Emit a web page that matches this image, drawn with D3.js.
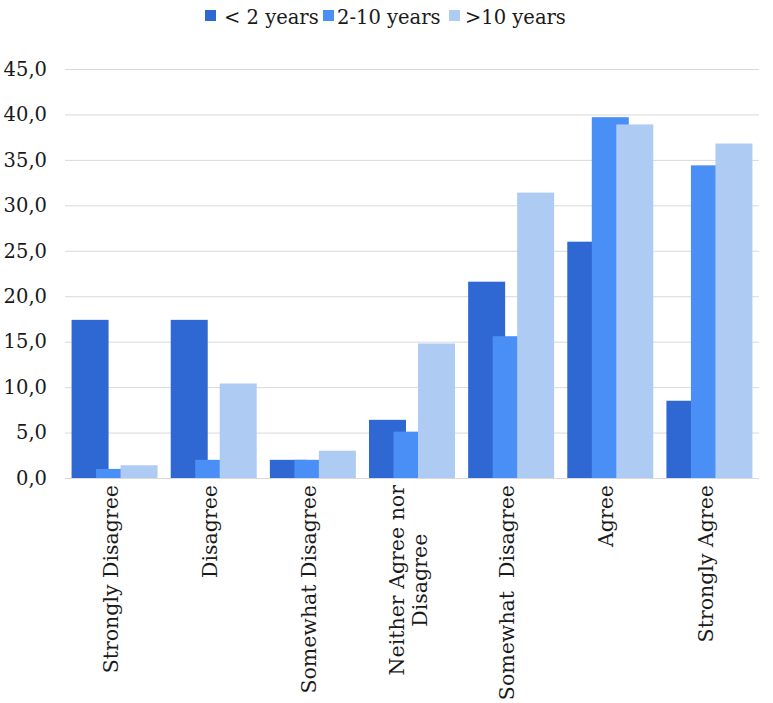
<!DOCTYPE html>
<html>
<head>
<meta charset="utf-8">
<script src="https://cdn.jsdelivr.net/npm/d3@7"></script>
<style>
  html, body { margin: 0; padding: 0; background: #fff; }
  svg { display: block; }
  text { font-family: "DejaVu Serif", serif; fill: #1a1a1a; }
</style>
</head>
<body>
<svg id="chart" width="773" height="703"></svg>
<script>
const categories = [
  ["Strongly Disagree"],
  ["Disagree"],
  ["Somewhat Disagree"],
  ["Neither Agree nor", "Disagree"],
  ["Somewhat  Disagree"],
  ["Agree"],
  ["Strongly Agree"]
];
const seriesNames = ["< 2 years", "2-10 years", ">10 years"];
const seriesColors = ["#2f68d2", "#4a8ff5", "#adcbf3"];
const lessThan2 = [17.4, 17.4, 2.0, 6.4, 21.6, 26.0, 8.5];
const twoTo10 = [1.0, 2.0, 2.0, 5.1, 15.6, 39.7, 34.4];
const moreThan10 = [1.4, 10.4, 3.0, 14.8, 31.4, 38.9, 36.8];
const yTicks = [0, 5, 10, 15, 20, 25, 30, 35, 40, 45];

const seriesValues = [lessThan2, twoTo10, moreThan10];

const svg = d3.select("#chart");
const mLeft = 65, mRight = 759, mTop = 69, mBottom = 478;

const catKeys = categories.map((c, i) => i);
const x = d3.scaleBand().domain(catKeys).range([mLeft, mRight]).padding(0);
const y = d3.scaleLinear().domain([0, 45]).range([mBottom, mTop]);

const barW = 37;
const offset = d3.scalePoint().domain(d3.range(seriesNames.length)).range([0, 49]);
const groupW = 49 + barW;

// gridlines
const grid = svg.append("g")
  .attr("transform", `translate(${mLeft},0)`)
  .call(d3.axisLeft(y).tickValues(yTicks).tickSize(-(mRight - mLeft)).tickFormat(""));
grid.select(".domain").remove();
grid.selectAll(".tick line").attr("stroke", "#d9d9d9").attr("stroke-width", 1);

// y tick labels
const fmt = d => d3.format(".1f")(d).replace(".", ",");
const yAxis = svg.append("g")
  .attr("transform", `translate(${mLeft},0)`)
  .call(d3.axisLeft(y).tickValues(yTicks).tickSize(0).tickPadding(18).tickFormat(fmt));
yAxis.select(".domain").remove();
yAxis.selectAll("text")
  .style("font-family", '"DejaVu Serif", serif')
  .style("font-size", "19.5px")
  .attr("fill", "#1a1a1a");

// bars
seriesValues.forEach((vals, s) => {
  svg.append("g").selectAll("rect")
    .data(vals)
    .join("rect")
    .attr("x", (d, i) => x(i) + (x.bandwidth() - groupW) / 2 + offset(s))
    .attr("width", barW)
    .attr("y", d => y(d))
    .attr("height", d => y(0) - y(d))
    .attr("fill", seriesColors[s]);
});

// x labels (rotated)
const labelTop = 485;
const lineH = 23;
categories.forEach((lines, i) => {
  const cx = x(i) + x.bandwidth() / 2 - 4;
  const g = svg.append("g").attr("transform", `translate(${cx},${labelTop}) rotate(-90)`);
  const t = g.append("text")
    .attr("text-anchor", "middle")
    .style("font-size", "20.5px")
    .style("white-space", "pre");
  const n = lines.length;
  lines.forEach((ln, k) => {
    t.append("tspan")
      .attr("x", 0)
      .attr("y", (k - (n - 1) / 2) * lineH)
      .attr("dy", "0.35em")
      .text(ln);
  });
  const w = d3.max(t.selectAll("tspan").nodes(), nd => nd.getComputedTextLength());
  t.selectAll("tspan").attr("x", -w / 2);
});

// legend
const legend = svg.append("g");
const legendItems = [
  { sq: 205, tx: 224 },
  { sq: 323, tx: 337 },
  { sq: 449, tx: 465 }
];
seriesNames.forEach((name, s) => {
  legend.append("rect")
    .attr("x", legendItems[s].sq).attr("y", 10)
    .attr("width", 11).attr("height", 11)
    .attr("fill", seriesColors[s]);
  legend.append("text")
    .attr("x", legendItems[s].tx).attr("y", 24)
    .style("font-size", "19.5px")
    .text(name);
});
</script>
</body>
</html>
